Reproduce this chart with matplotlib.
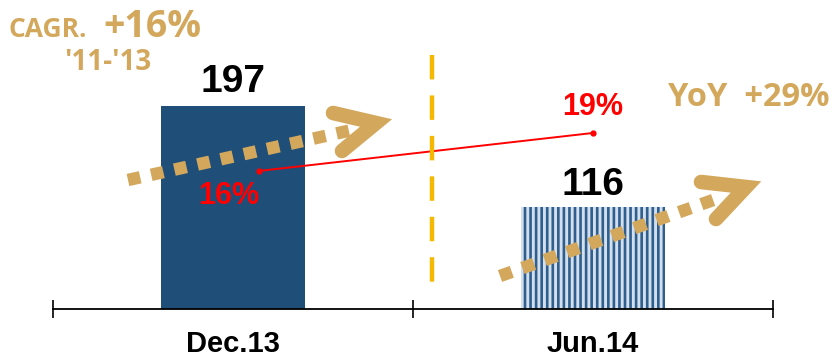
import matplotlib
matplotlib.use("Agg")
import matplotlib.pyplot as plt
from matplotlib.lines import Line2D
import numpy as np

categories = ["Dec.13", "Jun.14"]
bar_values = [197, 116]
bar_labels = ["197", "116"]
pct_values = [16, 19]
pct_labels = ["16%", "19%"]
cagr_text = "+16%"
cagr_period = "'11-'13"
yoy_text = "YoY  +29%"

W, H = 836, 360
fig = plt.figure(figsize=(W / 100, H / 100), dpi=100)
ax = fig.add_axes([53 / W, 1 - 309 / H, 720 / W, 309 / H])
ax.patch.set_alpha(0)

x = np.arange(len(categories))
dark = "#1F4E79"
plt.rcParams["hatch.linewidth"] = 1.9
ax.bar(x[0], bar_values[0], width=0.4, color=dark, bottom=0)
ax.bar(x[1], bar_values[1], width=0.4, facecolor="#d3dfec", edgecolor="#2f5f8e",
       hatch="|||", linewidth=0)
ax.set_ylim(34.2, 282.4)
ax.set_xlim(-0.5, 1.5)

for xi, v, lab, off in zip(x, bar_values, bar_labels, [10, 8.5]):
    ax.annotate(lab, (xi, v), xytext=(0, off), textcoords="offset points",
                ha="center", va="baseline", fontsize=28, fontweight="bold",
                family="Liberation Sans", color="black")

# spines / ticks
for s in ["left", "right", "top"]:
    ax.spines[s].set_visible(False)
ax.spines["bottom"].set_linewidth(1.3)
ax.set_yticks([])
ax.set_xticks([-0.5, 0.5, 1.5])
ax.set_xticklabels([])
ax.tick_params(axis="x", which="major", direction="inout", length=13, width=1.2)
ax.set_xticks(x, minor=True)
ax.set_xticklabels(categories, minor=True, fontsize=21, fontweight="bold",
                   family=["Liberation Sans Narrow", "Liberation Sans"])
ax.tick_params(axis="x", which="minor", length=0, pad=15)

# secondary axis line
ax2 = ax.twinx()
ax2.set_ylim(5.1, 29.5)
for s in ax2.spines.values():
    s.set_visible(False)
ax2.set_yticks([])
line_x = x + np.array([0.072, 0.0])

# decorations in figure pixel coords
def P(px, py):
    return (px / W, 1 - py / H)

gold = "#D3A85C"
tf = fig.transFigure

# dashed vertical separator
(x0, y0), (x1, y1) = P(432, 55), P(432, 282)
fig.add_artist(Line2D([x0, x1], [y0, y1], transform=tf, color="#F5B800", lw=3.2,
                      dashes=(5.5, 3.6), dash_capstyle="butt", zorder=1))

def dotted_arrow(start, end, arm1, tip, arm2):
    (a, b), (c, d) = P(*start), P(*end)
    fig.add_artist(Line2D([a, c], [b, d], transform=tf, color=gold, lw=9,
                          dashes=(1, 0.9), dash_capstyle="butt", zorder=3))
    pts = [P(*arm1), P(*tip), P(*arm2)]
    fig.add_artist(Line2D([p[0] for p in pts], [p[1] for p in pts], transform=tf,
                          color=gold, lw=10.5, solid_capstyle="round",
                          solid_joinstyle="miter", zorder=3))

dotted_arrow((128, 180), (352, 130), (333, 113), (376, 123), (342, 151))
dotted_arrow((500, 276), (716, 199), (701, 182), (746, 187), (716, 219))

ax2.plot(line_x, pct_values, color="#FF0000", lw=1.4, marker="o", ms=3.5, zorder=5)
ax2.annotate(pct_labels[0], (line_x[0], pct_values[0]), xytext=(-22, -24),
             textcoords="offset points", ha="center", va="baseline",
             fontsize=22, fontweight="bold", color="#FF0000", family="Liberation Sans")
ax2.annotate(pct_labels[1], (line_x[1], pct_values[1]), xytext=(0, 13),
             textcoords="offset points", ha="center", va="baseline",
             fontsize=22, fontweight="bold", color="#FF0000", family="Liberation Sans")

fs_font = ["Open Sans", "DejaVu Sans"]
fig.text(*P(9, 37), "CAGR.", transform=tf, fontsize=19, fontweight="bold",
         color=gold, family=fs_font, va="baseline")
fig.text(*P(103, 37), cagr_text, transform=tf, fontsize=27, fontweight="bold",
         color=gold, family=fs_font, va="baseline")
fig.text(*P(108, 70), cagr_period, transform=tf, fontsize=20, fontweight="bold",
         color=gold, family=fs_font, va="baseline", ha="center")
fig.text(*P(668, 106), yoy_text, transform=tf, fontsize=23.5, fontweight="bold",
         color=gold, family=fs_font, va="baseline")

fig.savefig("out.png", dpi=100)
